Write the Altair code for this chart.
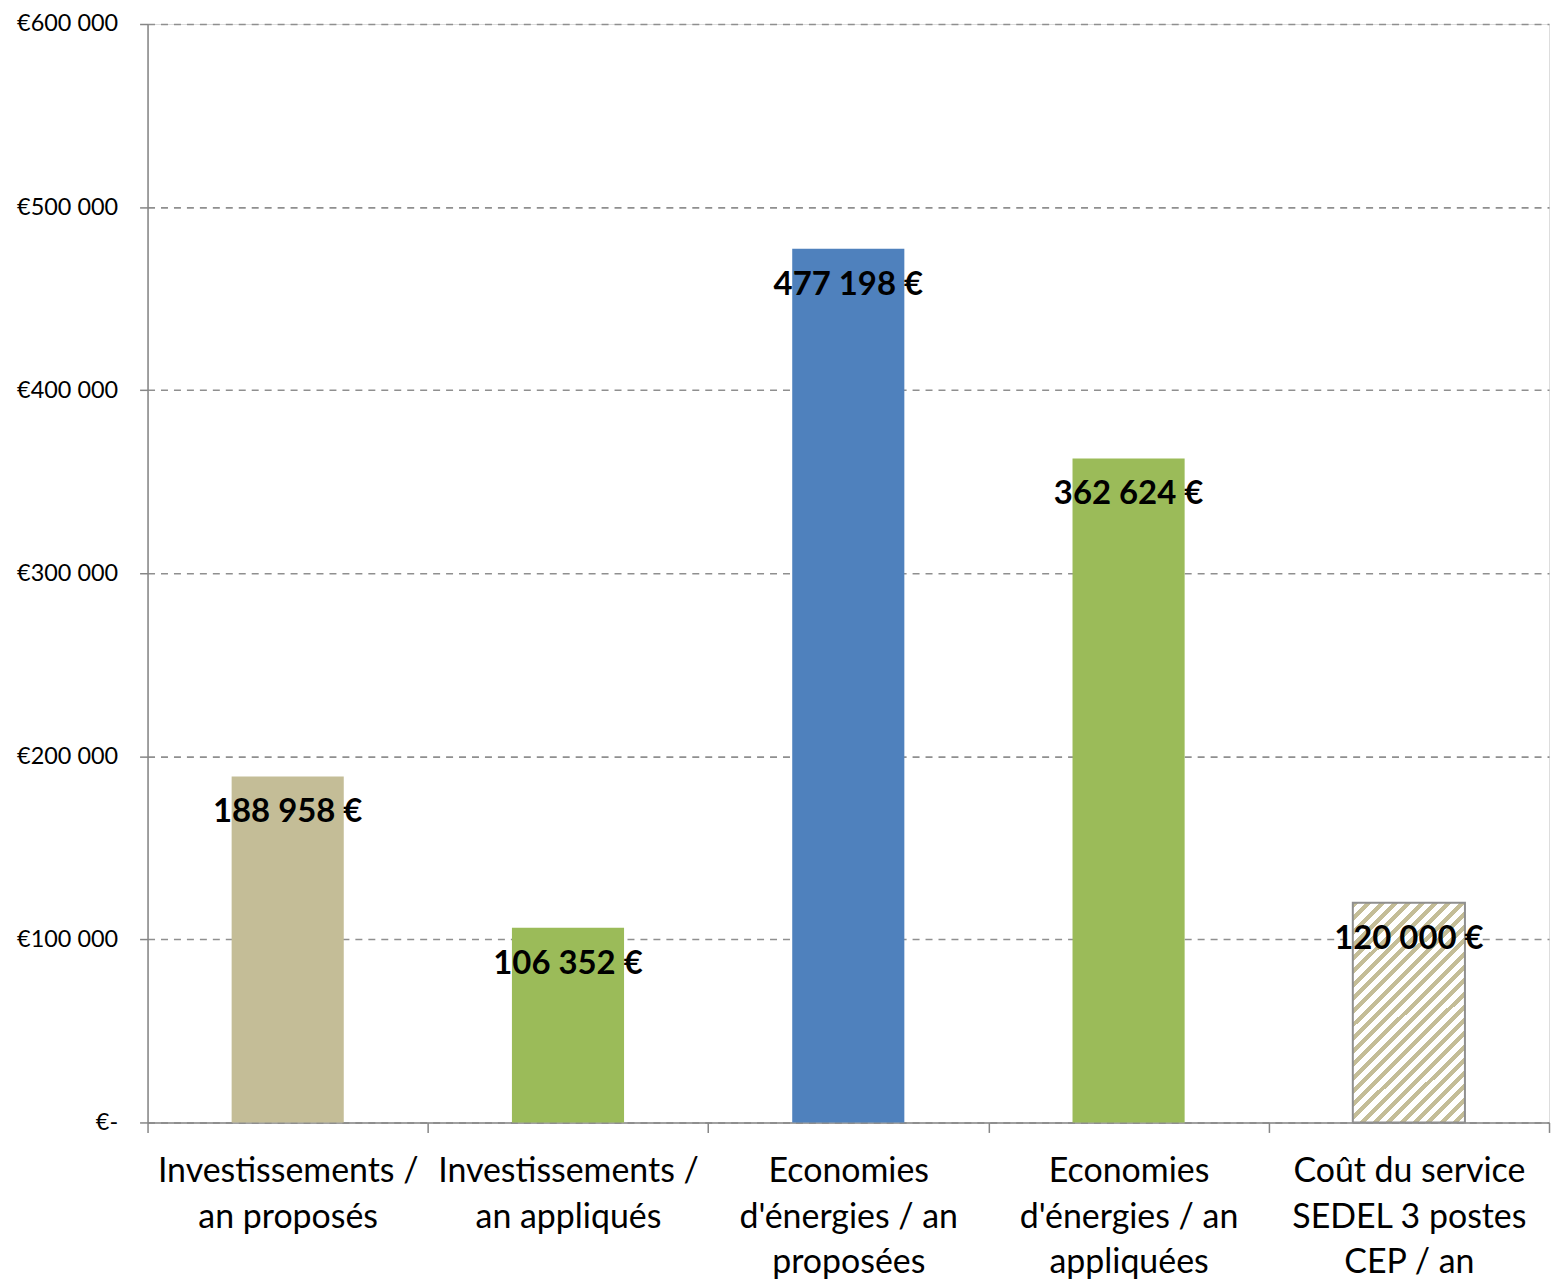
import altair as alt
import pandas as pd

categories = [
    "Investissements /\nan proposés",
    "Investissements /\nan appliqués",
    "Economies\nd'énergies / an\nproposées",
    "Economies\nd'énergies / an\nappliquées",
    "Coût du service\nSEDEL 3 postes\nCEP / an",
]
values = [188958, 106352, 477198, 362624, 120000]
colors = ["#C4BD97", "#9BBB59", "#4F81BD", "#9BBB59", "hatch"]

def fmt(v):
    return f"{v:,}".replace(",", " ") + " €"

df = pd.DataFrame({
    "cat": categories,
    "value": values,
    "color": colors,
    "label": [fmt(v) for v in values],
})

FONT = "Lato"
AXIS_GREY = "#868686"

x = alt.X(
    "cat:N",
    sort=categories,
    scale=alt.Scale(paddingInner=0, paddingOuter=0),
    axis=alt.Axis(
        title=None,
        labelAngle=0,
        labelExpr="split(datum.label, '\\n')",
        labelFont=FONT,
        labelFontSize=34,
        labelLineHeight=46,
        labelColor="#000000",
        labelPadding=22,
        labelBaseline="top",
        tickBand="extent",
        tickSize=10,
        tickColor=AXIS_GREY,
        tickWidth=1.5,
        domainColor=AXIS_GREY,
        domainWidth=1.5,
        grid=False,
        labelLimit=400,
    ),
)

y = alt.Y(
    "value:Q",
    scale=alt.Scale(domain=[0, 600000], nice=False),
    axis=alt.Axis(
        title=None,
        values=[0, 100000, 200000, 300000, 400000, 500000, 600000],
        labelExpr="datum.value == 0 ? '€-' : '€' + format(datum.value / 1000, 'd') + ' 000'",
        labelFont=FONT,
        labelFontSize=23.5,
        labelColor="#000000",
        labelPadding=22,
        tickSize=8,
        tickColor=AXIS_GREY,
        tickWidth=1.5,
        domainColor=AXIS_GREY,
        domainWidth=1.5,
        grid=True,
        gridColor="#8f8f8f",
        gridDash=[7, 6],
        gridWidth=1.6,
        minExtent=140,
    ),
)

base = alt.Chart(df)
BAR_W = alt.RelativeBandSize(0.4)

solid = base.transform_filter("datum.color != 'hatch'").mark_bar(width=BAR_W).encode(
    x=x,
    y=y,
    color=alt.Color("color:N", scale=None, legend=None),
)

# diagonal hatching via a striped linear gradient
n_periods = 25
stops = []
for k in range(n_periods):
    a = k / n_periods
    b = (k + 0.45) / n_periods
    c = (k + 1) / n_periods
    stops += [
        {"offset": a, "color": "#C4BD97"},
        {"offset": b, "color": "#C4BD97"},
        {"offset": b, "color": "#FFFFFF"},
        {"offset": c, "color": "#FFFFFF"},
    ]

hatched = base.transform_filter("datum.color == 'hatch'").mark_bar(
    width=BAR_W,
    color={"gradient": "linear", "x1": 0, "y1": 0, "x2": 0.61, "y2": 1.2, "stops": stops},
    stroke="#8F8F8F",
    strokeWidth=2,
).encode(x=x, y=y)

labels = base.mark_text(
    font=FONT,
    fontSize=33,
    fontWeight="bold",
    color="#000000",
    baseline="middle",
    dy=36,
).encode(x=x, y=y, text="label:N")

chart = (
    alt.layer(solid, hatched, labels)
    .properties(
        width=1406,
        height=1102,
        padding={"top": 2, "left": 0, "right": 5, "bottom": 0},
    )
    .configure_view(stroke=None)
    .configure(background="#FFFFFF")
)

chart.save("out.html", embed_options={"renderer": "svg", "actions": False})
